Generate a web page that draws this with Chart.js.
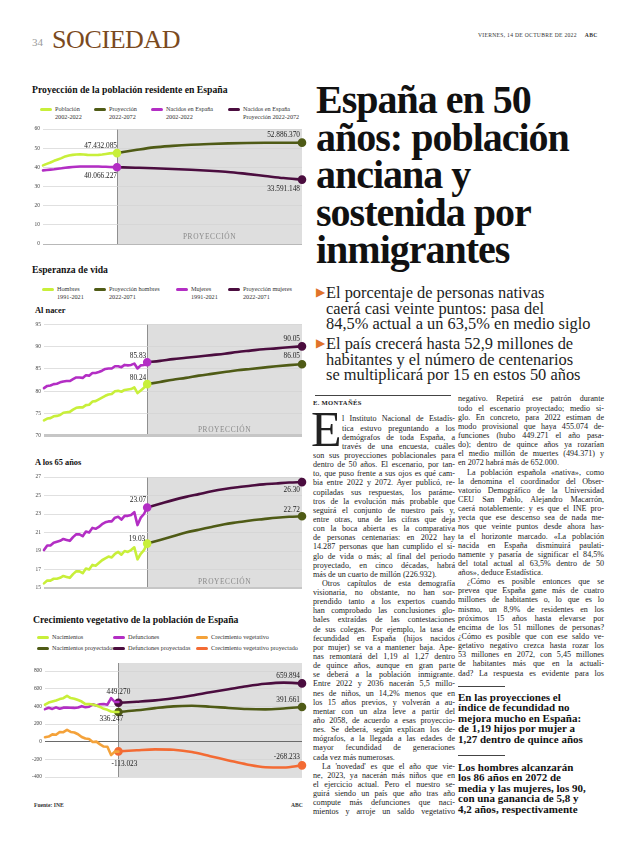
<!DOCTYPE html>
<html lang="es">
<head>
<meta charset="utf-8">
<title>España en 50 años</title>
<script src="https://cdn.jsdelivr.net/npm/chart.js@4.4.0/dist/chart.umd.min.js"></script>
<style>
  html, body { margin: 0; padding: 0; background: #fff; }
  body { width: 620px; height: 846px; position: relative; overflow: hidden;
         font-family: "Liberation Serif", serif; color: #1d1d1d; }
  .abs { position: absolute; white-space: nowrap; }
  canvas { position: absolute; }

  /* header */
  .page-no { left: 32px; top: 36px; font: 11px "Liberation Serif", serif; color: #9a9a9a; }
  .section { left: 52px; top: 25px; font-size: 26px; line-height: 30px; color: #7b4a1e; letter-spacing: -0.4px; }
  .dateline { left: 478px; top: 32px; font-size: 5.6px; letter-spacing: 0.3px; color: #333; }
  .dateline b { margin-left: 8px; }

  /* chart titles + legends */
  .ctitle { font-weight: bold; font-size: 9.7px; line-height: 12px; color: #111; }
  .csub { font-weight: bold; font-size: 8.4px; line-height: 10px; color: #111; }
  .leg { position: absolute; font-size: 6.2px; line-height: 8px; color: #333; white-space: nowrap; }
  .leg i { position: absolute; left: 0; top: 2.5px; width: 12px; height: 3px; border-radius: 1.5px; }
  .leg span { position: absolute; left: 15px; top: 0; }
  .foot { font-size: 5.6px; font-weight: bold; color: #333; }

  /* headline block */
  .headline { left: 316px; top: 81px; font-weight: bold; font-size: 40px; line-height: 37.5px;
              letter-spacing: -1px; color: #111; }
  .deck { left: 316px; font-size: 16.4px; line-height: 15.5px; color: #1d1d1d; }
  .deck .tri { position: absolute; left: 0; top: 0; color: #e0732a; font-size: 12px; }
  .deck .txt { position: absolute; left: 10px; top: 0; }
  .rule { position: absolute; height: 0; border-top: 1px solid #444; }

  /* body text */
  .byline { left: 313px; top: 398.5px; font-size: 6.6px; font-weight: bold; letter-spacing: 0.3px; }
  .col { position: absolute; font-size: 8.1px; color: #222; }
  .col div { height: 9.15px; line-height: 9.15px; white-space: nowrap;
             text-align: justify; text-align-last: justify; }
  .col div.end { text-align-last: left; }
  .col div.ind { text-indent: 9px; }
  .col div.dc { padding-left: 29px; }
  .dropcap { left: 311px; top: 404px; font-size: 50px; line-height: 50px; color: #222; }
  .quote { font-weight: bold; font-size: 11px; line-height: 10.4px; color: #111; }
</style>
</head>
<body>

<!-- ── Header ─────────────────────────────────────────────────────────────── -->
<div class="abs page-no">34</div>
<div class="abs section">SOCIEDAD</div>
<div class="abs dateline">VIERNES, 14 DE OCTUBRE DE 2022<b>ABC</b></div>

<!-- ── Chart 1: población ────────────────────────────────────────────────── -->
<div class="abs ctitle" style="left:32px;top:84px">Proyección de la población residente en España</div>
<div class="leg" style="left:40px;top:105px"><i style="background:#c8ef3a"></i><span>Población<br>2002-2022</span></div>
<div class="leg" style="left:94px;top:105px"><i style="background:#4f5b16"></i><span>Proyección<br>2022-2072</span></div>
<div class="leg" style="left:151px;top:105px"><i style="background:#b32ec4"></i><span>Nacidos en España<br>2002-2022</span></div>
<div class="leg" style="left:228px;top:105px"><i style="background:#4b0d3f"></i><span>Nacidos en España<br>Proyección 2022-2072</span></div>
<canvas id="popChart" width="280" height="136" style="left:30px;top:122px"></canvas>

<!-- ── Chart 2/3: esperanza de vida ─────────────────────────────────────── -->
<div class="abs ctitle" style="left:32px;top:264px">Esperanza de vida</div>
<div class="leg" style="left:42px;top:285px"><i style="background:#c8ef3a"></i><span>Hombres<br>1991-2021</span></div>
<div class="leg" style="left:94px;top:285px"><i style="background:#4f5b16"></i><span>Proyección hombres<br>2022-2071</span></div>
<div class="leg" style="left:176px;top:285px"><i style="background:#b32ec4"></i><span>Mujeres<br>1991-2021</span></div>
<div class="leg" style="left:228px;top:285px"><i style="background:#4b0d3f"></i><span>Proyección mujeres<br>2022-2071</span></div>
<div class="abs csub" style="left:35px;top:306px">Al nacer</div>
<canvas id="birthChart" width="280" height="132" style="left:30px;top:318px"></canvas>
<div class="abs csub" style="left:35px;top:458px">A los 65 años</div>
<canvas id="oldChart" width="280" height="132" style="left:30px;top:470px"></canvas>

<!-- ── Chart 4: crecimiento vegetativo ───────────────────────────────────── -->
<div class="abs ctitle" style="left:33px;top:614px">Crecimiento vegetativo de la población de España</div>
<div class="leg" style="left:37px;top:633px"><i style="background:#c8ef3a"></i><span>Nacimientos</span></div>
<div class="leg" style="left:113px;top:633px"><i style="background:#b32ec4"></i><span>Defunciones</span></div>
<div class="leg" style="left:196px;top:633px"><i style="background:#f4a23a"></i><span>Crecimiento vegetativo</span></div>
<div class="leg" style="left:37px;top:644px"><i style="background:#4f5b16"></i><span>Nacimientos proyectados</span></div>
<div class="leg" style="left:113px;top:644px"><i style="background:#4b0d3f"></i><span>Defunciones proyectadas</span></div>
<div class="leg" style="left:196px;top:644px"><i style="background:#f36b34"></i><span>Crecimiento vegetativo proyectado</span></div>
<canvas id="vegChart" width="280" height="136" style="left:30px;top:655px"></canvas>
<div class="abs foot" style="left:34px;top:802px">Fuente: INE</div>
<div class="abs foot" style="left:291px;top:802px">ABC</div>

<!-- ── Headline ──────────────────────────────────────────────────────────── -->
<div class="abs headline">España en 50<br>años: población<br>anciana y<br>sostenida por<br>inmigrantes</div>

<div class="abs deck" style="top:285px;height:47px">
  <span class="tri">&#9654;</span>
  <span class="txt">El porcentaje de personas nativas<br>caerá casi veinte puntos: pasa del<br>84,5% actual a un 63,5% en medio siglo</span>
</div>
<div class="abs deck" style="top:336px;height:47px">
  <span class="tri">&#9654;</span>
  <span class="txt">El país crecerá hasta 52,9 millones de<br>habitantes y el número de centenarios<br>se multiplicará por 15 en estos 50 años</span>
</div>
<div class="rule" style="left:315px;top:395px;width:136px"></div>

<!-- ── Body, column 1 ────────────────────────────────────────────────────── -->
<div class="abs byline">E. MONTAÑÉS</div>
<div class="abs dropcap">E</div>
<div class="col" style="left:313px;top:414.4px;width:142px">
  <div class="dc">l Instituto Nacional de Estadís-</div>
  <div class="dc">tica estuvo preguntando a los</div>
  <div class="dc">demógrafos de toda España, a</div>
  <div class="dc">través de una encuesta, cuáles</div>
  <div>son sus proyecciones poblacionales para</div>
  <div>dentro de 50 años. El escenario, por tan-</div>
  <div>to, que puso frente a sus ojos es qué cam-</div>
  <div>bia entre 2022 y 2072. Ayer publicó, re-</div>
  <div>copiladas sus respuestas, los paráme-</div>
  <div>tros de la evolución más probable que</div>
  <div>seguirá el conjunto de nuestro país y,</div>
  <div>entre otras, una de las cifras que deja</div>
  <div>con la boca abierta es la comparativa</div>
  <div>de personas centenarias: en 2022 hay</div>
  <div>14.287 personas que han cumplido el si-</div>
  <div>glo de vida o más; al final del periodo</div>
  <div>proyectado, en cinco décadas, habrá</div>
  <div class="end">más de un cuarto de millón (226.932).</div>
  <div class="ind">Otros capítulos de esta demografía</div>
  <div>visionaria, no obstante, no han sor-</div>
  <div>prendido tanto a los expertos cuando</div>
  <div>han comprobado las conclusiones glo-</div>
  <div>bales extraídas de las contestaciones</div>
  <div>de sus colegas. Por ejemplo, la tasa de</div>
  <div>fecundidad en España (hijos nacidos</div>
  <div>por mujer) se va a mantener baja. Ape-</div>
  <div>nas remontará del 1,19 al 1,27 dentro</div>
  <div>de quince años, aunque en gran parte</div>
  <div>se deberá a la población inmigrante.</div>
  <div>Entre 2022 y 2036 nacerán 5,5 millo-</div>
  <div>nes de niños, un 14,2% menos que en</div>
  <div>los 15 años previos, y volverán a au-</div>
  <div>mentar con un alza leve a partir del</div>
  <div>año 2058, de acuerdo a esas proyeccio-</div>
  <div>nes. Se deberá, según explican los de-</div>
  <div>mógrafos, a la llegada a las edades de</div>
  <div>mayor fecundidad de generaciones</div>
  <div class="end">cada vez más numerosas.</div>
  <div class="ind">La 'novedad' es que el año que vie-</div>
  <div>ne, 2023, ya nacerán más niños que en</div>
  <div>el ejercicio actual. Pero el nuestro se-</div>
  <div>guirá siendo un país que año tras año</div>
  <div>compute más defunciones que naci-</div>
  <div>mientos y arroje un saldo vegetativo</div>
</div>

<!-- ── Body, column 2 ────────────────────────────────────────────────────── -->
<div class="col" style="left:458px;top:394.4px;width:146px">
  <div>negativo. Repetirá ese patrón durante</div>
  <div>todo el escenario proyectado; medio si-</div>
  <div>glo. En concreto, para 2022 estiman de</div>
  <div>modo provisional que haya 455.074 de-</div>
  <div>funciones (hubo 449.271 el año pasa-</div>
  <div>do); dentro de quince años ya rozarían</div>
  <div>el medio millón de muertes (494.371) y</div>
  <div class="end">en 2072 habrá más de 652.000.</div>
  <div class="ind">La población española «nativa», como</div>
  <div>la denomina el coordinador del Obser-</div>
  <div>vatorio Demográfico de la Universidad</div>
  <div>CEU San Pablo, Alejandro Macarrón,</div>
  <div>caerá notablemente: y es que el INE pro-</div>
  <div>yecta que ese descenso sea de nada me-</div>
  <div>nos que veinte puntos desde ahora has-</div>
  <div>ta el horizonte marcado. «La población</div>
  <div>nacida en España disminuirá paulati-</div>
  <div>namente y pasaría de significar el 84,5%</div>
  <div>del total actual al 63,5% dentro de 50</div>
  <div class="end">años», deduce Estadística.</div>
  <div class="ind">¿Cómo es posible entonces que se</div>
  <div>prevea que España gane más de cuatro</div>
  <div>millones de habitantes o, lo que es lo</div>
  <div>mismo, un 8,9% de residentes en los</div>
  <div>próximos 15 años hasta elevarse por</div>
  <div>encima de los 51 millones de personas?</div>
  <div>¿Cómo es posible que con ese saldo ve-</div>
  <div>getativo negativo crezca hasta rozar los</div>
  <div>53 millones en 2072, con 5,45 millones</div>
  <div>de habitantes más que en la actuali-</div>
  <div>dad? La respuesta es evidente para los</div>
</div>

<div class="rule" style="left:458px;top:686px;width:47px"></div>
<div class="abs quote" style="left:458px;top:692px">En las proyecciones el<br>índice de fecundidad no<br>mejora mucho en España:<br>de 1,19 hijos por mujer a<br>1,27 dentro de quince años</div>
<div class="rule" style="left:458px;top:755px;width:47px"></div>
<div class="abs quote" style="left:458px;top:762px">Los hombres alcanzarán<br>los 86 años en 2072 de<br>media y las mujeres, los 90,<br>con una ganancia de 5,8 y<br>4,2 años, respectivamente</div>

<script>
/* ── Data ──────────────────────────────────────────────────────────────────── */

// Población residente (millones)
const popYears        = [2002, 2003, 2004, 2005, 2006, 2007, 2008, 2009, 2010, 2011, 2012,
                         2013, 2014, 2015, 2016, 2017, 2018, 2019, 2020, 2021, 2022];
const popValues       = [41.0, 41.8, 42.5, 43.4, 44.1, 44.8, 45.7, 46.2, 46.5, 46.7, 46.8,
                         46.7, 46.5, 46.4, 46.4, 46.5, 46.7, 47.0, 47.3, 47.4, 47.43];
const bornValues      = [38.4, 38.6, 38.8, 39.0, 39.3, 39.5, 39.8, 40.0, 40.2, 40.3, 40.4,
                         40.4, 40.4, 40.4, 40.4, 40.4, 40.3, 40.3, 40.2, 40.1, 40.07];
const popProjYears    = [2022, 2027, 2032, 2037, 2042, 2047, 2052, 2057, 2062, 2067, 2072];
const popProjValues   = [47.43, 49.0, 50.4, 51.2, 51.8, 52.2, 52.5, 52.7, 52.8, 52.8, 52.89];
const bornProjValues  = [40.07, 39.8, 39.5, 39.1, 38.7, 38.2, 37.6, 36.6, 35.5, 34.4, 33.59];
const popTicks        = [2002, 2007, 2012, 2017, 2022, 2027, 2032, 2037, 2042, 2047, 2052,
                         2057, 2062, 2067, 2072];

// Esperanza de vida
const lifeYears       = [1991, 1992, 1993, 1994, 1995, 1996, 1997, 1998, 1999, 2000, 2001,
                         2002, 2003, 2004, 2005, 2006, 2007, 2008, 2009, 2010, 2011, 2012,
                         2013, 2014, 2015, 2016, 2017, 2018, 2019, 2020, 2021, 2022, 2023];
const menBirth        = [73.5, 73.9, 74.0, 74.4, 74.5, 74.7, 75.2, 75.3, 75.4, 75.9, 76.3,
                         76.4, 76.4, 76.9, 77.0, 77.7, 77.8, 78.2, 78.6, 79.0, 79.3, 79.4,
                         80.0, 80.1, 79.9, 80.3, 80.4, 80.5, 80.9, 79.6, 80.2, 80.8, 81.6];
const womenBirth      = [80.7, 81.2, 81.3, 81.6, 81.7, 82.0, 82.2, 82.3, 82.3, 82.7, 83.1,
                         83.1, 83.0, 83.6, 83.5, 84.1, 84.1, 84.3, 84.6, 85.0, 85.1, 85.1,
                         85.6, 85.6, 85.4, 85.9, 85.8, 85.9, 86.2, 85.1, 85.8, 85.9, 86.5];
const men65           = [15.5, 15.8, 15.8, 16.0, 16.0, 16.1, 16.3, 16.2, 16.1, 16.5, 16.8,
                         16.8, 16.6, 17.1, 17.0, 17.5, 17.4, 17.7, 18.0, 18.2, 18.4, 18.3,
                         18.7, 18.9, 18.6, 19.0, 18.9, 19.1, 19.4, 18.1, 18.7, 19.1, 19.8];
const women65         = [19.1, 19.6, 19.6, 19.9, 20.0, 20.1, 20.3, 20.2, 20.1, 20.5, 20.8,
                         20.8, 20.6, 21.1, 21.0, 21.5, 21.4, 21.6, 21.9, 22.1, 22.2, 22.2,
                         22.6, 22.7, 22.4, 22.8, 22.8, 22.9, 23.2, 21.8, 22.6, 23.0, 23.7];
const lifeProjYears   = [2023, 2027, 2031, 2035, 2039, 2043, 2047, 2051, 2055, 2059, 2063, 2067, 2071];
const menBirthProj    = [81.6, 82.1, 82.6, 83.0, 83.5, 83.9, 84.3, 84.7, 85.0, 85.3, 85.6, 85.85, 86.05];
const womenBirthProj  = [86.5, 86.8, 87.2, 87.5, 87.8, 88.1, 88.4, 88.8, 89.1, 89.4, 89.6, 89.85, 90.05];
const men65Proj       = [19.8, 20.2, 20.6, 21.0, 21.3, 21.6, 21.9, 22.1, 22.3, 22.45, 22.6, 22.7, 22.75];
const women65Proj     = [23.7, 24.1, 24.5, 24.85, 25.15, 25.45, 25.7, 25.9, 26.05, 26.2, 26.3, 26.4, 26.45];
const lifeTicks       = [1991, 1995, 1999, 2003, 2007, 2011, 2015, 2019, 2023, 2027, 2031,
                         2035, 2039, 2043, 2047, 2051, 2055, 2059, 2063, 2067, 2071];
const lifeTickLabels  = ["1991", "95", "99", "03", "07", "11", "15", "19", "23", "27", "31",
                         "35", "39", "43", "47", "51", "55", "59", "63", "67", "2071"];

// Crecimiento vegetativo (miles)
const vegYears        = popYears;
const births          = [418, 442, 454, 466, 482, 492, 519, 494, 486, 471, 454,
                         425, 427, 420, 410, 393, 372, 360, 341, 337, 336];
const deaths          = [368, 384, 371, 388, 372, 385, 386, 384, 382, 387, 402,
                         390, 396, 423, 410, 424, 427, 418, 493, 450, 449];
const growth          = [50, 58, 83, 78, 110, 107, 133, 110, 104, 84, 52,
                         35, 31, -3, 0, -31, -55, -58, -152, -113, -113];
const vegProjYears    = popProjYears;
const birthsProj      = [336, 355, 380, 400, 406, 396, 382, 370, 366, 376, 391.7];
const deathsProj      = [440, 452, 467, 492, 523, 560, 594, 628, 655, 668, 659.9];
const growthProj      = [-110, -97, -87, -92, -117, -164, -212, -258, -289, -292, -268.2];

// ── Colours ───────────────────────────────────────────────────────────────────
const LIME    = "#c8ef3a";
const OLIVE   = "#4f5b16";
const MAGENTA = "#b32ec4";
const PLUM    = "#4b0d3f";
const ORANGE  = "#f4a23a";
const RED     = "#f36b34";
const TICK    = "#444";

// ── Helpers ───────────────────────────────────────────────────────────────────
function series(xs, ys, color, dots, smooth) {
    return {
        data:            xs.map((x, i) => ({ x, y: ys[i] })),
        borderColor:     color,
        backgroundColor: color,
        borderWidth:     2.6,
        pointRadius:     xs.map((x, i) => dots.includes(i) ? 3 : 0),
        pointHoverRadius: 0,
        cubicInterpolationMode: smooth ? "monotone" : "default",
        tension:         0,
        borderCapStyle:  "round",
        borderJoinStyle: "round",
        clip:            false,
    };
}

// grey "PROYECCIÓN" band behind the projected years
function shadePlugin(from, extra, textGap) {
    return {
        id: "shade",
        beforeDraw(chart) {
            const { ctx, chartArea: a, scales: { x } } = chart;
            const x0  = Math.round(x.getPixelForValue(from));
            const top = a.top - extra;
            ctx.save();
            ctx.fillStyle = "#dedede";
            ctx.fillRect(x0, top, a.right - x0, a.bottom - top);
            ctx.strokeStyle = "#8f8f8f";
            ctx.lineWidth = 1;
            ctx.beginPath();
            ctx.moveTo(x0 + 0.5, top);
            ctx.lineTo(x0 + 0.5, a.bottom);
            ctx.stroke();
            if (textGap != null) {
                ctx.fillStyle = "#8a8a8a";
                ctx.font = '7.4px "Liberation Serif"';
                ctx.letterSpacing = "0.6px";
                ctx.textAlign = "center";
                ctx.fillText("PROYECCIÓN", (x0 + a.right) / 2, a.bottom - textGap);
            }
            ctx.restore();
        },
    };
}

// value annotations pinned to data points
function labelPlugin(items) {
    return {
        id: "valueLabels",
        afterDatasetsDraw(chart) {
            const { ctx, scales: { x, y } } = chart;
            ctx.save();
            ctx.font = '7.3px "Liberation Serif"';
            ctx.fillStyle = "#222";
            ctx.textBaseline = "middle";
            items.forEach(it => {
                ctx.textAlign = it.align || "right";
                ctx.fillText(it.text,
                    x.getPixelForValue(it.x) + (it.dx || 0),
                    y.getPixelForValue(it.y) + (it.dy || 0));
            });
            ctx.restore();
        },
    };
}

function makeChart(id, o) {
    return new Chart(document.getElementById(id), {
        type: "line",
        data: { datasets: o.datasets },
        plugins: [shadePlugin(o.shadeFrom, o.shadeExtra || 0, o.textGap), labelPlugin(o.labels)],
        options: {
            responsive: false,
            animation:  false,
            events:     [],
            layout: { padding: { top: o.padTop, right: 8, left: 0, bottom: 0 } },
            plugins: { legend: { display: false }, tooltip: { enabled: false } },
            scales: {
                x: {
                    type: "linear",
                    min: o.xTicks[0],
                    max: o.xTicks[o.xTicks.length - 1],
                    afterBuildTicks: s => { s.ticks = o.xTicks.map(v => ({ value: v })); },
                    afterFit: s => { s.height = 14; s.paddingLeft = 0; s.paddingRight = 0; },
                    grid:   { display: false },
                    border: { display: false },
                    ticks: {
                        autoSkip: false, maxRotation: 0, padding: 5, color: TICK,
                        font: { family: "Liberation Serif", size: 5.8 },
                        callback: (v, i) => o.xLabels[i],
                    },
                },
                y: {
                    min: o.yMin, max: o.yMax,
                    afterFit: s => { s.width = o.yWidth; },
                    border: { display: false },
                    grid: {
                        drawTicks: false,
                        color:     c => o.gridColor(c.tick.value),
                        lineWidth: c => o.gridWidth(c.tick.value),
                    },
                    ticks: {
                        stepSize: o.yStep, padding: 3, color: TICK,
                        font: { family: "Liberation Serif", size: 5.4 },
                    },
                },
            },
        },
    });
}

const last = arr => arr.length - 1;

// ── Boot ──────────────────────────────────────────────────────────────────────
document.addEventListener("DOMContentLoaded", () => {

    // Población residente
    makeChart("popChart", {
        datasets: [
            series(popYears, popValues, LIME, [last(popYears)], false),
            series(popYears, bornValues, MAGENTA, [last(popYears)], false),
            series(popProjYears, popProjValues, OLIVE, [last(popProjYears)], true),
            series(popProjYears, bornProjValues, PLUM, [last(popProjYears)], true),
        ],
        xTicks: popTicks, xLabels: popTicks.map(String),
        yMin: 0, yMax: 60, yStep: 10, yWidth: 13, padTop: 7,
        gridColor: v => v === 0 ? "#9a9a9a" : "#d2d2d2",
        gridWidth: v => 0.7,
        shadeFrom: 2022, textGap: 5,
        labels: [
            { x: popYears[last(popYears)], y: popValues[last(popValues)], text: "47.432.085", dy: -7 },
            { x: popYears[last(popYears)], y: bornValues[last(bornValues)], text: "40.066.227", dy: 9 },
            { x: popProjYears[last(popProjYears)], y: popProjValues[last(popProjValues)], text: "52.886.370", dx: -2, dy: -8 },
            { x: popProjYears[last(popProjYears)], y: bornProjValues[last(bornProjValues)], text: "33.591.148", dx: -2, dy: 9 },
        ],
    });

    // Esperanza de vida al nacer
    makeChart("birthChart", {
        datasets: [
            series(lifeYears, menBirth, LIME, [last(lifeYears)], false),
            series(lifeYears, womenBirth, MAGENTA, [last(lifeYears)], false),
            series(lifeProjYears, menBirthProj, OLIVE, [last(lifeProjYears)], true),
            series(lifeProjYears, womenBirthProj, PLUM, [last(lifeProjYears)], true),
        ],
        xTicks: lifeTicks, xLabels: lifeTickLabels,
        yMin: 70, yMax: 95, yStep: 5, yWidth: 14, padTop: 6,
        gridColor: v => v === 70 ? "#c6c6c6" : "#d2d2d2",
        gridWidth: v => v === 70 ? 3 : 0.7,
        shadeFrom: 2023, textGap: 4,
        labels: [
            { x: lifeYears[last(lifeYears)], y: womenBirth[last(womenBirth)], text: "85.83", dx: -1, dy: -6 },
            { x: lifeYears[last(lifeYears)], y: menBirth[last(menBirth)], text: "80.24", dx: -1, dy: -6 },
            { x: lifeProjYears[last(lifeProjYears)], y: womenBirthProj[last(womenBirthProj)], text: "90.05", dx: -2, dy: -7 },
            { x: lifeProjYears[last(lifeProjYears)], y: menBirthProj[last(menBirthProj)], text: "86.05", dx: -2, dy: -8 },
        ],
    });

    // Esperanza de vida a los 65 años
    makeChart("oldChart", {
        datasets: [
            series(lifeYears, men65, LIME, [last(lifeYears)], false),
            series(lifeYears, women65, MAGENTA, [last(lifeYears)], false),
            series(lifeProjYears, men65Proj, OLIVE, [last(lifeProjYears)], true),
            series(lifeProjYears, women65Proj, PLUM, [last(lifeProjYears)], true),
        ],
        xTicks: lifeTicks, xLabels: lifeTickLabels,
        yMin: 15, yMax: 27, yStep: 2, yWidth: 14, padTop: 7,
        gridColor: v => v === 15 ? "#c6c6c6" : "#d2d2d2",
        gridWidth: v => v === 15 ? 2 : 0.7,
        shadeFrom: 2023, textGap: 4,
        labels: [
            { x: lifeYears[last(lifeYears)], y: women65[last(women65)], text: "23.07", dx: -1, dy: -7 },
            { x: lifeYears[last(lifeYears)], y: men65[last(men65)], text: "19.03", dx: -2, dy: -5 },
            { x: lifeProjYears[last(lifeProjYears)], y: women65Proj[last(women65Proj)], text: "26.30", dx: -2, dy: 8 },
            { x: lifeProjYears[last(lifeProjYears)], y: men65Proj[last(men65Proj)], text: "22.72", dx: -2, dy: -6 },
        ],
    });

    // Crecimiento vegetativo
    makeChart("vegChart", {
        datasets: [
            series(vegYears, births, LIME, [], false),
            series(vegYears, deaths, MAGENTA, [], false),
            series(vegYears, growth, ORANGE, [], false),
            series(vegProjYears, birthsProj, OLIVE, [0, last(vegProjYears)], true),
            series(vegProjYears, deathsProj, PLUM, [0, last(vegProjYears)], true),
            series(vegProjYears, growthProj, RED, [0, last(vegProjYears)], true),
        ],
        xTicks: popTicks, xLabels: popTicks.map(String),
        yMin: -400, yMax: 800, yStep: 200, yWidth: 15, padTop: 16,
        gridColor: v => v === 0 ? "#6a6a6a" : "#d2d2d2",
        gridWidth: v => v === 0 ? 1 : 0.7,
        shadeFrom: 2022, shadeExtra: 8,
        labels: [
            { x: vegYears[last(vegYears)], y: deaths[last(deaths)], text: "449.270", align: "center", dy: -10 },
            { x: vegYears[last(vegYears)], y: births[last(births)], text: "336.247", align: "center", dx: -7, dy: 7 },
            { x: vegYears[last(vegYears)], y: growth[last(growth)], text: "-113.023", align: "center", dx: 6, dy: 12 },
            { x: vegProjYears[last(vegProjYears)], y: deathsProj[last(deathsProj)], text: "659.894", dx: -2, dy: -7 },
            { x: vegProjYears[last(vegProjYears)], y: birthsProj[last(birthsProj)], text: "391.661", dx: -2, dy: -7 },
            { x: vegProjYears[last(vegProjYears)], y: growthProj[last(growthProj)], text: "-268.233", dx: -2, dy: -8 },
        ],
    });
});
</script>
</body>
</html>
